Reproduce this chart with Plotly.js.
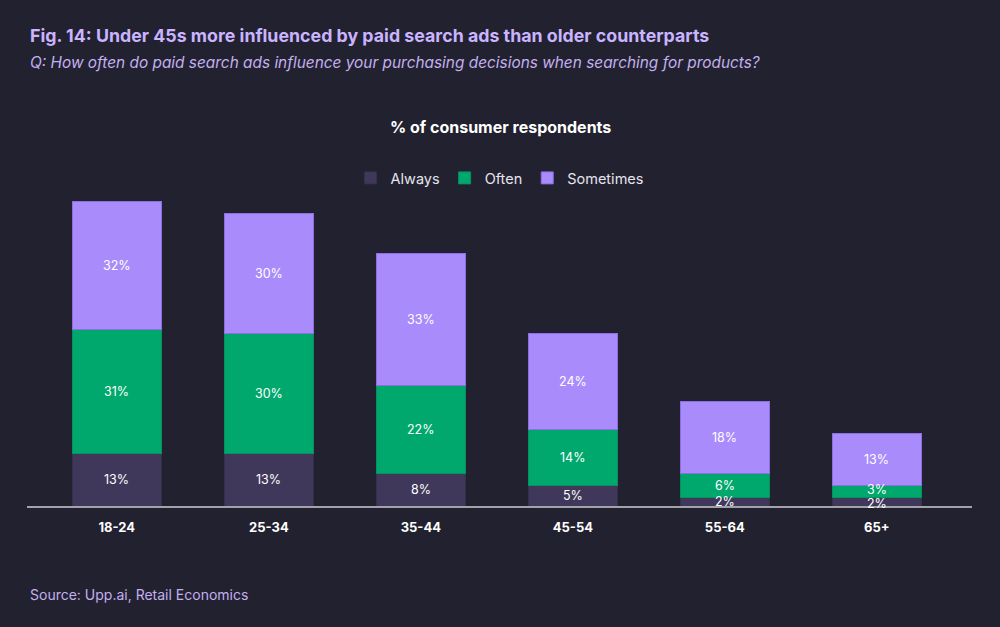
<!DOCTYPE html>
<html>
<head>
<meta charset="utf-8">
<script src="https://cdn.plot.ly/plotly-3.0.1.min.js"></script>
<style>
  html, body { margin: 0; padding: 0; background: #22212f; }
  #chart { width: 1000px; height: 627px; }
</style>
</head>
<body>
<div id="chart"></div>
<script>
const ageGroups = ["18-24", "25-34", "35-44", "45-54", "55-64", "65+"];
const always = [13, 13, 8, 5, 2, 2];
const often = [31, 30, 22, 14, 6, 3];
const sometimes = [32, 30, 33, 24, 18, 13];

const seriesNames = ["Always", "Often", "Sometimes"];
const seriesColors = ["#40385a", "#00a86e", "#a98bfc"];
const seriesLines = ["#353049", "#05925f", "#8c6fe0"];
const seriesValues = [always, often, sometimes];

const fontFam = "Inter, 'Open Sans', sans-serif";

const traces = seriesValues.map((vals, i) => ({
  type: "bar",
  name: seriesNames[i],
  x: ageGroups,
  y: vals,
  marker: { color: seriesColors[i], line: { color: seriesLines[i], width: 1 } },
  hoverinfo: "skip"
}));

// value labels, placed at the middle of each stacked segment (data coords);
// cramped labels are nudged apart so they stay readable
const yMax = 101.2;
const plotH = 406;
const pxPerUnit = plotH / yMax;
const minSep = 14;
const labelAnns = [];
ageGroups.forEach((g, j) => {
  let base = 0;
  const items = seriesValues.map((vals, i) => {
    const mid = base + vals[j] / 2;
    base += vals[j];
    return { i, mid, px: mid * pxPerUnit, shift: 0 };
  });
  // resolve overlaps: push labels apart symmetrically
  for (let k = 1; k < items.length; k++) {
    const lo = items[k - 1], hi = items[k];
    const gap = (hi.px + hi.shift) - (lo.px + lo.shift);
    if (gap < minSep) {
      const need = minSep - gap;
      const down = Math.min(need * 0.3, 2);
      lo.shift -= down;
      hi.shift += need - down;
    }
  }
  items.forEach(it => {
    labelAnns.push({
      x: g, y: it.mid, xref: "x", yref: "y",
      text: seriesValues[it.i][j] + "%",
      showarrow: false, yshift: it.shift,
      xanchor: "center", yanchor: "middle",
      font: { family: fontFam, size: 12.5, color: "#ffffff" }
    });
  });
});

const layout = {
  width: 1000,
  height: 627,
  paper_bgcolor: "#22212f",
  plot_bgcolor: "#22212f",
  barmode: "stack",
  bargap: 0.415,
  margin: { l: 27, r: 28, t: 100, b: 121 },
  showlegend: true,
  legend: {
    orientation: "h",
    x: 0.5, xanchor: "center",
    y: 0.808, yanchor: "middle",
    font: { family: fontFam, size: 14.5, color: "#e6e4ee" },
    traceorder: "normal",
    itemclick: false,
    bgcolor: "rgba(0,0,0,0)"
  },
  xaxis: {
    type: "category",
    range: [-0.591, 5.626],
    showline: true,
    linecolor: "#a3a2ab",
    linewidth: 1.5,
    showgrid: false,
    zeroline: false,
    ticks: "",
    ticklabelstandoff: 9,
    tickfont: { family: fontFam, size: 13, color: "#ffffff", weight: "bold" },
    fixedrange: true
  },
  yaxis: {
    range: [0, yMax],
    visible: false,
    showgrid: false,
    zeroline: false,
    fixedrange: true
  },
  annotations: [
    {
      text: "Fig. 14: Under 45s more influenced by paid search ads than older counterparts",
      xref: "paper", yref: "paper",
      x: 0, xanchor: "left", xshift: 1,
      y: 1, yanchor: "middle", yshift: 100 - 35,
      showarrow: false,
      font: { family: fontFam, size: 17.8, color: "#c9b4ff", weight: "bold" }
    },
    {
      text: "<i>Q: How often do paid search ads influence your purchasing decisions when searching for products?</i>",
      xref: "paper", yref: "paper",
      x: 0, xanchor: "left", xshift: 1,
      y: 1, yanchor: "middle", yshift: 100 - 62,
      showarrow: false,
      font: { family: fontFam, size: 15.4, color: "#c2b0f0" }
    },
    {
      text: "<b>% of consumer respondents</b>",
      xref: "paper", yref: "paper",
      x: 0.5, xanchor: "center", xshift: 500 - 499.5,
      y: 1, yanchor: "middle", yshift: 100 - 127,
      showarrow: false,
      font: { family: fontFam, size: 16, color: "#ffffff" }
    },
    {
      text: "Source: Upp.ai, Retail Economics",
      xref: "paper", yref: "paper",
      x: 0, xanchor: "left", xshift: 1,
      y: 0, yanchor: "middle", yshift: 506 - 594,
      showarrow: false,
      font: { family: fontFam, size: 14, color: "#c2b0f0" }
    }
  ].concat(labelAnns)
};

Plotly.newPlot("chart", traces, layout, { displayModeBar: false, staticPlot: true });
</script>
</body>
</html>
